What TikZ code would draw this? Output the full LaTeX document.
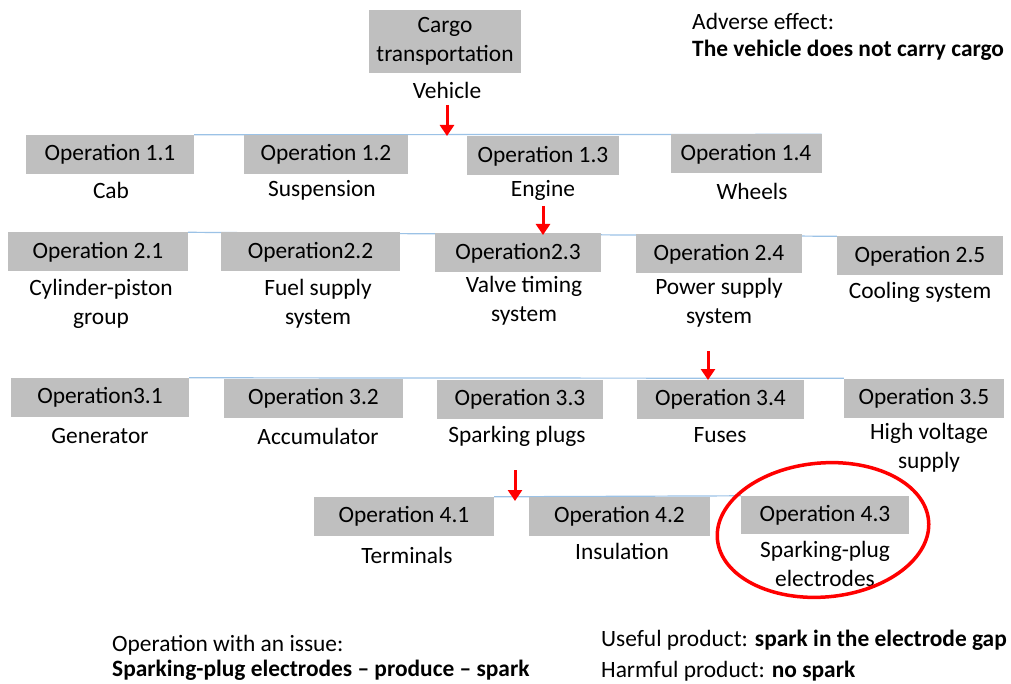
\documentclass[tikz,border=0pt]{standalone}
\usepackage{fontspec}
\setmainfont{Carlito}
\usetikzlibrary{arrows.meta}

\definecolor{opgrey}{RGB}{191,191,191}
\definecolor{lineblue}{RGB}{155,194,230}

\pgfdeclarelayer{background}
\pgfsetlayers{background,main}

\tikzset{
    opbox/.style={fill=opgrey, minimum height=39pt, inner sep=0pt},
    sublabel/.style={align=center, inner sep=0pt},
    rowline/.style={draw=lineblue, line width=1.2pt},
    redarrow/.style={draw=red, line width=3pt, -{Triangle[length=11pt,width=14pt]}},
    notetext/.style={anchor=west, inner sep=0pt}
}

\begin{document}
\begin{tikzpicture}[x=1pt, y=-1pt, font=\fontsize{23.4}{29}\selectfont]

    \useasboundingbox (0,0) rectangle (1011,684);

    % Top function and its carrier
    \node[opbox, minimum width=152pt, minimum height=63pt, align=center] (cargo) at (445,41.5)
        {Cargo\\transportation};
    \node[sublabel] (vehicle) at (447,90) {Vehicle};

    % Adverse effect
    \node[notetext] (adverse) at (692,21) {Adverse effect:};
    \node[notetext, font=\fontsize{23.4}{29}\selectfont\bfseries] (adversebold) at (692,50)
        {The vehicle does not carry cargo};

    % Level 1
    \node[opbox, minimum width=168pt] (op11) at (110,154.5) {Operation 1.1};
    \node[opbox, minimum width=164pt] (op12) at (326,154.5) {Operation 1.2};
    \node[opbox, minimum width=152pt] (op13) at (543,156) {Operation 1.3};
    \node[opbox, minimum width=151pt] (op14) at (746,154) {Operation 1.4};

    \node[sublabel] (cab) at (111,190) {Cab};
    \node[sublabel] (susp) at (322,190) {Suspension};
    \node[sublabel] (engine) at (543,190) {Engine};
    \node[sublabel] (wheels) at (752,191) {Wheels};

    % Level 2
    \node[opbox, minimum width=180pt] (op21) at (98,252) {Operation 2.1};
    \node[opbox, minimum width=179pt] (op22) at (310.5,252) {Operation2.2};
    \node[opbox, minimum width=166pt] (op23) at (518,253) {Operation2.3};
    \node[opbox, minimum width=166pt] (op24) at (719,254) {Operation 2.4};
    \node[opbox, minimum width=166pt] (op25) at (920,256) {Operation 2.5};

    \node[sublabel] (cylinder) at (101,303.5) {Cylinder-piston\\group};
    \node[sublabel] (fuel) at (318,303.5) {Fuel supply\\system};
    \node[sublabel] (valve) at (524,300.5) {Valve timing\\system};
    \node[sublabel] (power) at (719,303) {Power supply\\system};
    \node[sublabel] (cooling) at (920,292) {Cooling system};

    % Level 3
    \node[opbox, minimum width=178pt] (op31) at (100,397.5) {Operation3.1};
    \node[opbox, minimum width=179pt] (op32) at (313.5,398) {Operation 3.2};
    \node[opbox, minimum width=166pt] (op33) at (520,399) {Operation 3.3};
    \node[opbox, minimum width=167pt] (op34) at (720.5,399) {Operation 3.4};
    \node[opbox, minimum width=160pt] (op35) at (924,398) {Operation 3.5};

    \node[sublabel] (generator) at (100,436) {Generator};
    \node[sublabel] (accu) at (318,436) {Accumulator};
    \node[sublabel] (plugs) at (517,436) {Sparking plugs};
    \node[sublabel] (fuses) at (720,435) {Fuses};
    \node[sublabel] (highvolt) at (929,447.5) {High voltage\\supply};

    % Level 4
    \node[opbox, minimum width=180pt] (op41) at (404,516.5) {Operation 4.1};
    \node[opbox, minimum width=181pt] (op42) at (619.5,516) {Operation 4.2};
    \node[opbox, minimum width=168pt, minimum height=38pt] (op43) at (825,515) {Operation 4.3};

    \node[sublabel] (terminals) at (407,555) {Terminals};
    \node[sublabel] (insulation) at (622,551) {Insulation};
    \node[sublabel] (electrodes) at (825,563.5) {Sparking-plug\\electrodes};

    % Rows joined behind the boxes
    \begin{pgfonlayer}{background}
        \draw[rowline] (op11.north east) -- (op14.north east);
        \draw[rowline] (op21.north east) -- (op25.north west);
        \draw[rowline] (op31.north east) -- (op35.north west);
        \draw[rowline] (op41.north east) -- (op43.north west);
    \end{pgfonlayer}

    % Path down to the faulty element
    \coordinate (arr1top) at (447,105);
    \coordinate (arr1tip) at (447,136);
    \coordinate (arr2top) at (543,206);
    \coordinate (arr2tip) at (543,235);
    \coordinate (arr3top) at (708,351);
    \coordinate (arr3tip) at (708,380);
    \coordinate (arr4top) at (515,470);
    \coordinate (arr4tip) at (515,501);

    \draw[redarrow] (arr1top) -- (arr1tip);
    \draw[redarrow] (arr2top) -- (arr2tip);
    \draw[redarrow] (arr3top) -- (arr3tip);
    \draw[redarrow] (arr4top) -- (arr4tip);

    % Faulty element
    \draw[red, line width=3.5pt] (op43.center) ++(-2,15)
        ellipse [x radius=106pt, y radius=67pt, rotate=5];

    % Notes at the bottom
    \node[notetext] (issue) at (112,645) {Operation with an issue:};
    \node[notetext, font=\fontsize{23.4}{29}\selectfont\bfseries] (issuebold) at (112,670)
        {Sparking-plug electrodes -- produce -- spark};
    \node[notetext] (useful) at (601,640) {Useful product: \textbf{spark in the electrode gap}};
    \node[notetext] (harmful) at (601,671) {Harmful product: \textbf{no spark}};

\end{tikzpicture}
\end{document}
